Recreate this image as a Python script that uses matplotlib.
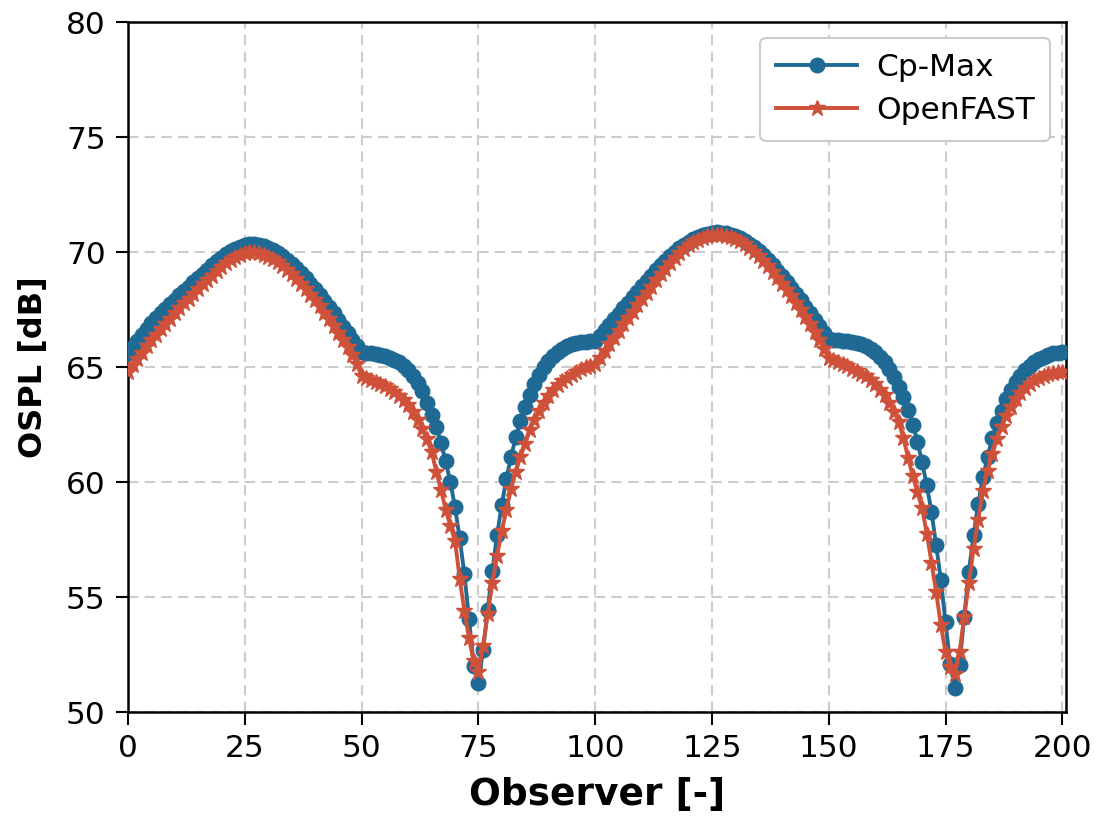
import numpy as np
import matplotlib
matplotlib.use('Agg')
import matplotlib.pyplot as plt

# observer index 0..200
observer = np.arange(0, 201)

# Cp-Max OSPL [dB]
cpmax = [
    65.60, 65.87, 66.13, 66.39, 66.65, 66.90, 67.12, 67.33, 67.53, 67.73,
    67.93, 68.12, 68.31, 68.50, 68.69, 68.88, 69.06, 69.24, 69.42, 69.60,
    69.76, 69.91, 70.04, 70.15, 70.24, 70.31, 70.35, 70.35, 70.32, 70.26,
    70.18, 70.08, 69.96, 69.82, 69.66, 69.48, 69.29, 69.08, 68.86, 68.63,
    68.39, 68.14, 67.88, 67.61, 67.33, 67.05, 66.76, 66.47, 66.18, 65.90,
    65.65, 65.62, 65.60, 65.57, 65.53, 65.48, 65.41, 65.32, 65.20, 65.05,
    64.85, 64.60, 64.30, 63.95, 63.45, 62.90, 62.40, 61.70, 60.90, 60.00,
    58.90, 57.55, 56.00, 54.05, 52.00, 51.25, 52.70, 54.45, 56.15, 57.70,
    59.00, 60.15, 61.10, 61.95, 62.65, 63.25, 63.80, 64.25, 64.65, 64.98,
    65.25, 65.48, 65.66, 65.80, 65.91, 66.00, 66.05, 66.09, 66.11, 66.12,
    66.12, 66.36, 66.60, 66.84, 67.08, 67.32, 67.56, 67.80, 68.04, 68.28,
    68.51, 68.74, 68.97, 69.20, 69.42, 69.63, 69.83, 70.01, 70.17, 70.32,
    70.45, 70.56, 70.65, 70.72, 70.78, 70.82, 70.85, 70.84, 70.81, 70.76,
    70.69, 70.60, 70.49, 70.36, 70.21, 70.04, 69.85, 69.64, 69.42, 69.19,
    68.95, 68.70, 68.44, 68.17, 67.90, 67.62, 67.34, 67.06, 66.78, 66.50,
    66.22, 66.19, 66.17, 66.15, 66.13, 66.10, 66.06, 66.00, 65.92, 65.80,
    65.65, 65.45, 65.20, 64.90, 64.55, 64.15, 63.70, 63.15, 62.50, 61.75,
    60.85, 59.85, 58.70, 57.25, 55.75, 53.90, 52.10, 51.05, 52.05, 54.15,
    56.10, 57.70, 59.05, 60.20, 61.10, 61.90, 62.55, 63.10, 63.60, 64.00,
    64.35, 64.62, 64.87, 65.06, 65.22, 65.35, 65.45, 65.53, 65.59, 65.63,
    65.66,
]

# OpenFAST OSPL [dB]
openfast = [
    64.80, 65.08, 65.36, 65.63, 65.90, 66.16, 66.40, 66.64, 66.87, 67.10,
    67.33, 67.55, 67.77, 67.98, 68.19, 68.39, 68.59, 68.79, 68.98, 69.17,
    69.35, 69.51, 69.66, 69.79, 69.89, 69.96, 70.00, 69.99, 69.95, 69.88,
    69.79, 69.68, 69.55, 69.40, 69.23, 69.04, 68.84, 68.62, 68.39, 68.15,
    67.90, 67.64, 67.37, 67.09, 66.80, 66.50, 66.19, 65.87, 65.54, 65.15,
    64.60, 64.52, 64.45, 64.37, 64.28, 64.18, 64.06, 63.92, 63.76, 63.57,
    63.35, 63.05, 62.70, 62.30, 61.85, 61.30, 60.45, 59.65, 58.80, 58.10,
    57.45, 55.80, 54.40, 53.20, 52.20, 51.75, 52.85, 54.25, 55.60, 56.80,
    57.85, 58.80, 59.70, 60.45, 61.10, 61.65, 62.25, 62.70, 63.10, 63.45,
    63.75, 64.00, 64.22, 64.38, 64.52, 64.67, 64.80, 64.90, 64.98, 65.05,
    65.12, 65.40, 65.69, 65.98, 66.27, 66.56, 66.85, 67.13, 67.41, 67.69,
    67.96, 68.23, 68.50, 68.77, 69.03, 69.28, 69.52, 69.74, 69.95, 70.13,
    70.29, 70.43, 70.54, 70.63, 70.69, 70.73, 70.75, 70.74, 70.71, 70.65,
    70.57, 70.46, 70.33, 70.18, 70.01, 69.82, 69.61, 69.38, 69.14, 68.89,
    68.63, 68.36, 68.08, 67.79, 67.49, 67.18, 66.86, 66.53, 66.19, 65.80,
    65.40, 65.30, 65.20, 65.12, 65.03, 64.93, 64.82, 64.70, 64.62, 64.45,
    64.25, 64.02, 63.78, 63.45, 63.05, 62.60, 61.90, 61.05, 60.25, 59.55,
    58.85, 57.75, 56.50, 55.20, 53.80, 52.60, 51.95, 51.65, 52.60, 54.15,
    55.60, 57.10, 58.35, 59.60, 60.50, 61.20, 61.85, 62.40, 62.85, 63.25,
    63.60, 63.88, 64.10, 64.28, 64.42, 64.53, 64.62, 64.69, 64.74, 64.78,
    64.80,
]

xticks = [0, 25, 50, 75, 100, 125, 150, 175, 200]
yticks = [50, 55, 60, 65, 70, 75, 80]

fig = plt.figure(figsize=(10.99, 8.17), dpi=100)
ax = fig.add_axes([0.1165, 0.1285, 0.8535, 0.8445])

ax.plot(observer, cpmax, color='#1f6a94', marker='o', markersize=10.5,
        linewidth=2.8, label='Cp-Max', zorder=3)
ax.plot(observer, openfast, color='#cf5139', marker='*', markersize=12,
        linewidth=2.8, label='OpenFAST', zorder=4)

ax.set_xlim(0, 200.8)
ax.set_ylim(50, 80)
ax.set_xticks(xticks)
ax.set_yticks(yticks)
ax.grid(True, linestyle='--', color='#cccccc', linewidth=1.5, dashes=(5, 3))
ax.set_axisbelow(True)

for s in ax.spines.values():
    s.set_linewidth(1.8)
ax.tick_params(axis='both', labelsize=22.5, length=9, width=1.5, pad=7)

ax.set_xlabel('Observer [-]', fontsize=27, fontweight='bold', labelpad=10)
ax.set_ylabel('OSPL [dB]', fontsize=23, fontweight='bold', labelpad=12)

leg = ax.legend(loc='upper right', fontsize=22.5, handlelength=2.6,
                handletextpad=0.6, borderpad=0.5, labelspacing=0.45,
                framealpha=1, edgecolor='#cccccc', fancybox=True)
leg.get_frame().set_linewidth(1.5)

fig.savefig('out.png', dpi=100)
